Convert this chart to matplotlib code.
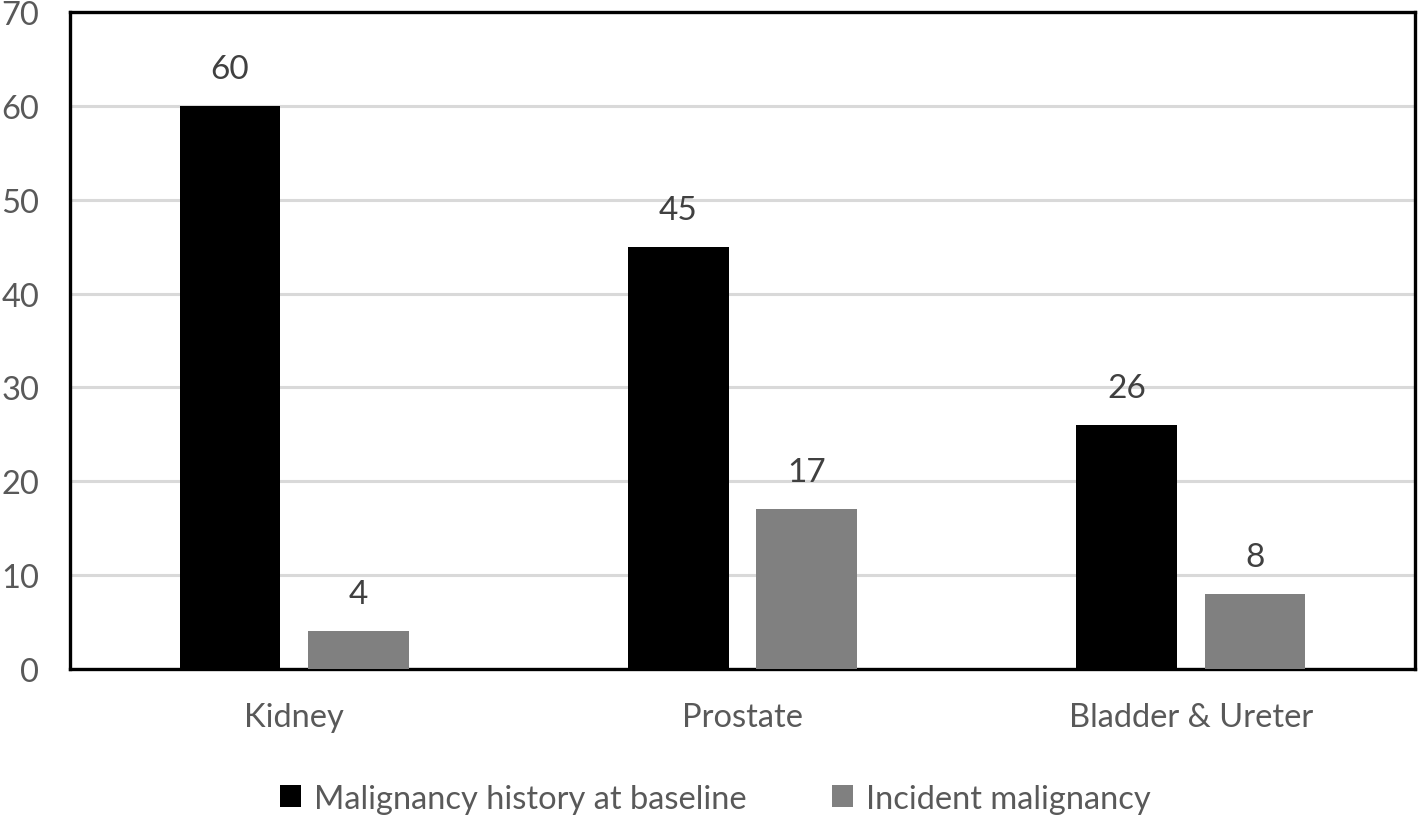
import matplotlib
matplotlib.use("Agg")
import matplotlib.pyplot as plt
import numpy as np

categories = ["Kidney", "Prostate", "Bladder & Ureter"]
baseline = [60, 45, 26]
incident = [4, 17, 8]
series_names = ["Malignancy history at baseline", "Incident malignancy"]

plt.rcParams['font.family'] = ['Lato', 'DejaVu Sans']

fig = plt.figure(figsize=(14.19, 8.2), dpi=100)
ax = fig.add_axes([0.0493, 0.1829, 0.9479, 0.8011])

x = np.arange(len(categories))
w = 0.225
b1 = ax.bar(x - 0.143, baseline, w, color='black', label=series_names[0], zorder=3)
b2 = ax.bar(x + 0.143, incident, w, color='#808080', label=series_names[1], zorder=3)

ax.bar_label(b1, padding=16, fontsize=24, color='#404040')
ax.bar_label(b2, padding=16, fontsize=24, color='#404040')

ax.set_xlim(-0.5, 2.5)
ax.set_ylim(0, 70)
ax.set_yticks(range(0, 71, 10))
ax.set_xticks(x)
ax.set_xticklabels(categories)
ax.tick_params(axis='both', length=0, labelsize=23.5, labelcolor='#595959')
ax.tick_params(axis='y', pad=22)
ax.tick_params(axis='x', pad=24)
ax.grid(axis='y', color='#d9d9d9', linewidth=2.2, zorder=0)

for s in ax.spines.values():
    s.set_linewidth(2.4)
    s.set_color('black')

leg = ax.legend(loc='upper center', bbox_to_anchor=(0.48, -0.13), ncol=2, frameon=False,
                fontsize=23.5, labelcolor='#595959', handlelength=0.65, handleheight=0.65,
                handletextpad=0.4, columnspacing=2.6)

plt.savefig('out.png', dpi=100)
